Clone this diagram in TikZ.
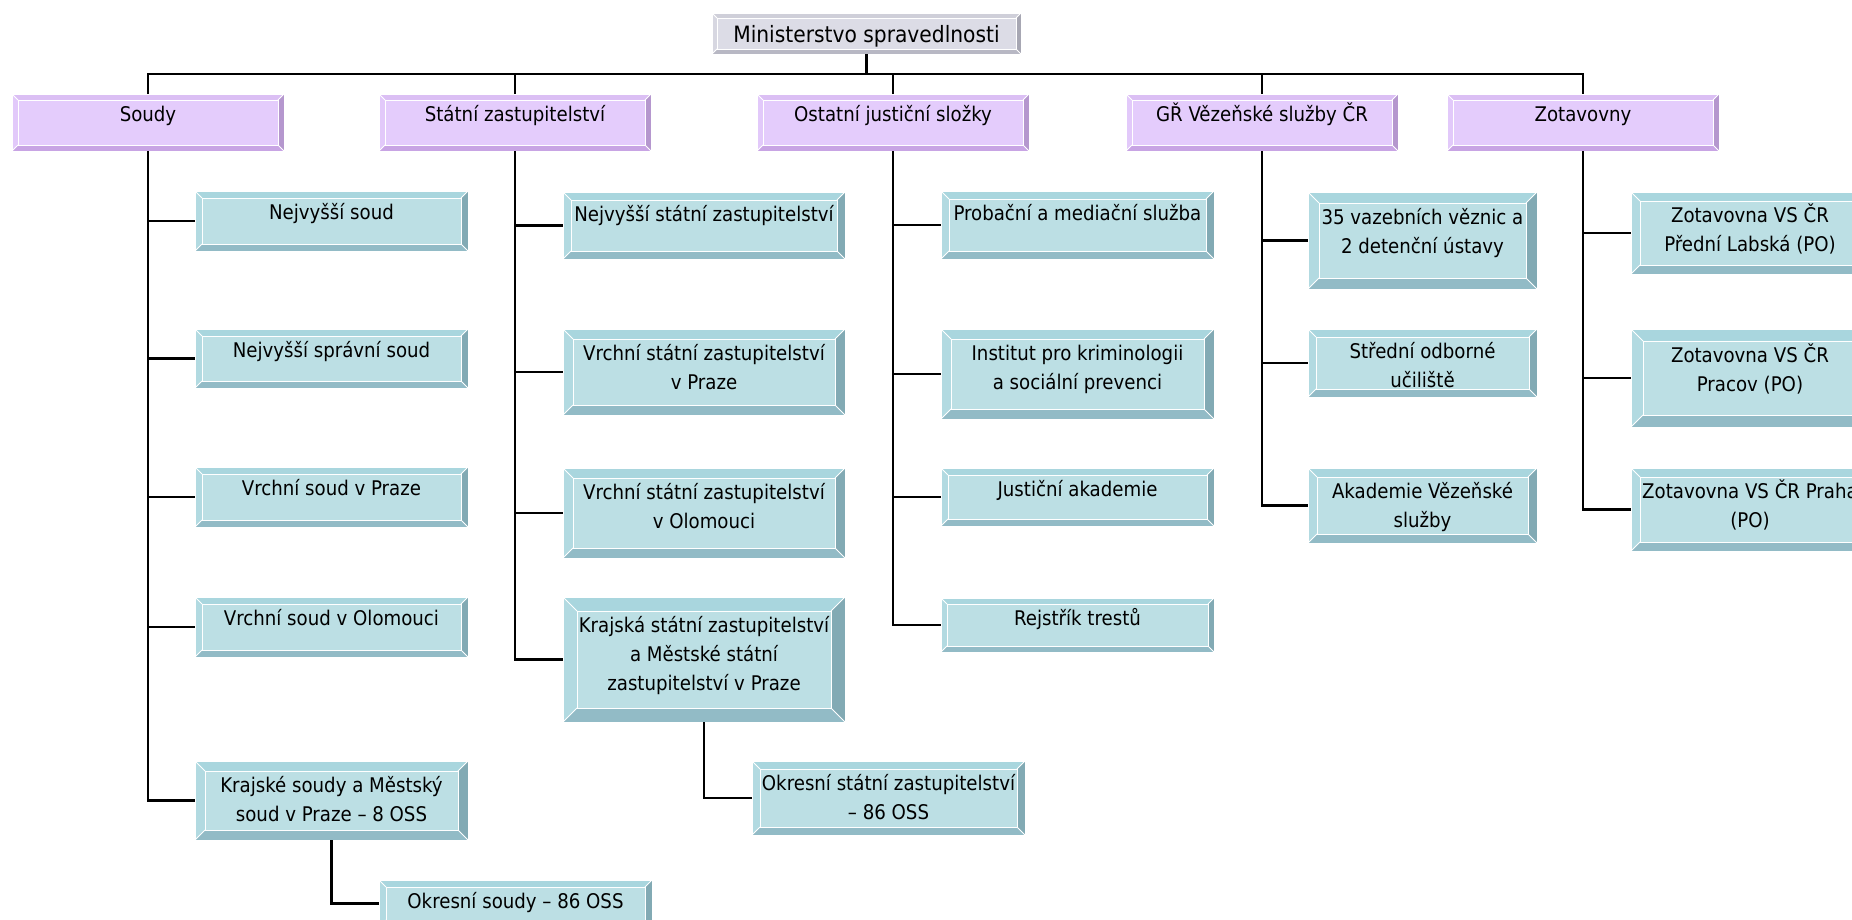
\documentclass[tikz,border=0pt]{standalone}
\usepackage{fontspec}
\IfFontExistsTF{DejaVu Sans Condensed}{\setmainfont{DejaVu Sans Condensed}}{\setmainfont{Liberation Sans}}
\usetikzlibrary{fit}
\definecolor{tF}{HTML}{BCDFE4}
\definecolor{tT}{HTML}{A9D6DE}
\definecolor{tL}{HTML}{B2DAE1}
\definecolor{tB}{HTML}{92BBC6}
\definecolor{tR}{HTML}{82AAB4}
\definecolor{pF}{HTML}{E4CCFC}
\definecolor{pT}{HTML}{DBBFF4}
\definecolor{pL}{HTML}{E2C9FA}
\definecolor{pB}{HTML}{C8A4E4}
\definecolor{pR}{HTML}{B597CE}
\definecolor{gF}{HTML}{DCDCE6}
\definecolor{gT}{HTML}{CFCFD9}
\definecolor{gL}{HTML}{D7D7E1}
\definecolor{gB}{HTML}{B8B8C4}
\definecolor{gR}{HTML}{A7A7B3}
\tikzset{
  boxtext/.style={inner sep=0pt, outer sep=0pt, align=center, text=black,
    font=\fontsize{20.2pt}{29pt}\selectfont},
  bigtext/.style={font=\fontsize{22.5pt}{30pt}\selectfont},
  conn/.style={draw=black, line width=2.2pt},
  rim/.style={draw=white, line width=1pt},
}
% #1 name, #2 x1, #3 y1, #4 x2, #5 y2, #6 bevel, #7 palette, #8 text style, #9 text
\newcommand\bbox[9]{%
  \node[fit={(#2,#3) (#4,#5)}, inner sep=0pt, outer sep=0pt] (#1) {};
  \coordinate (#1-a) at ([xshift=#6pt,yshift=-#6pt]#1.north west);
  \coordinate (#1-b) at ([xshift=-#6pt,yshift=-#6pt]#1.north east);
  \coordinate (#1-c) at ([xshift=-#6pt,yshift=#6pt]#1.south east);
  \coordinate (#1-d) at ([xshift=#6pt,yshift=#6pt]#1.south west);
  \fill[#7T] (#1.north west) -- (#1.north east) -- (#1-b) -- (#1-a) -- cycle;
  \fill[#7L] (#1.north west) -- (#1-a) -- (#1-d) -- (#1.south west) -- cycle;
  \fill[#7R] (#1.north east) -- (#1.south east) -- (#1-c) -- (#1-b) -- cycle;
  \fill[#7B] (#1.south west) -- (#1-d) -- (#1-c) -- (#1.south east) -- cycle;
  \fill[#7F] (#1-a) rectangle (#1-c);
  \draw[rim] (#1.north west) rectangle (#1.south east);
  \draw[rim] (#1-a) rectangle (#1-c);
  \draw[rim, line width=0.8pt] (#1.north west) -- (#1-a) (#1.north east) -- (#1-b)
     (#1.south east) -- (#1-c) (#1.south west) -- (#1-d);
  \node[boxtext, #8, anchor=north] (#1-t) at ({(#2+#4)/2},{#3+#6+1.5}) {\rule{0pt}{1em}#9};
}
\begin{document}
\begin{tikzpicture}[x=1pt, y=-1pt]
\clip[use as bounding box] (0,0) rectangle (1852,919);
\fill[white] (0,0) rectangle (1852,919);

% top
\bbox{min}{712}{13}{1021}{54}{5}{g}{bigtext}{Ministerstvo spravedlnosti}
\coordinate (bus) at (866.5,74);

% level 1
\bbox{soudy}{12}{94}{284}{151}{6}{p}{}{Soudy}
\bbox{sz}{379}{94}{651}{151}{6}{p}{}{Státní zastupitelství}
\bbox{ojs}{757}{94}{1029}{151}{6}{p}{}{Ostatní justiční složky}
\bbox{gr}{1126}{94}{1398}{151}{6}{p}{}{GŘ Vězeňské služby ČR}
\bbox{zot}{1447}{94}{1719}{151}{6}{p}{}{Zotavovny}

% Soudy column
\bbox{ns}{195}{191}{468}{251}{7}{t}{}{Nejvyšší soud}
\bbox{nss}{195}{329}{468}{388}{7}{t}{}{Nejvyšší správní soud}
\bbox{vsp}{195}{467}{468}{527}{7}{t}{}{Vrchní soud v Praze}
\bbox{vso}{195}{597}{468}{657}{7}{t}{}{Vrchní soud v Olomouci}
\bbox{ks}{195}{761}{468}{840}{10}{t}{}{Krajské soudy a Městský\\soud v Praze – 8 OSS}
\bbox{os}{379}{880}{652}{927}{7}{t}{}{Okresní soudy – 86 OSS}

% Statni zastupitelstvi column
\bbox{nsz}{563}{192}{845}{259}{8}{t}{}{Nejvyšší státní zastupitelství}
\bbox{vszp}{563}{329}{845}{415}{10}{t}{}{Vrchní státní zastupitelství\\v Praze}
\bbox{vszo}{563}{468}{845}{558}{10}{t}{}{Vrchní státní zastupitelství\\v Olomouci}
\bbox{ksz}{563}{597}{845}{722}{14}{t}{}{Krajská státní zastupitelství\\a Městské státní\\zastupitelství v Praze}
\bbox{osz}{752}{761}{1025}{835}{8}{t}{}{Okresní státní zastupitelství\\– 86 OSS}

% Ostatni column
\bbox{pms}{941}{191}{1214}{259}{8}{t}{}{Probační a mediační služba}
\bbox{ikp}{941}{329}{1214}{419}{10}{t}{}{Institut pro kriminologii\\a sociální prevenci}
\bbox{ja}{941}{468}{1214}{526}{7}{t}{}{Justiční akademie}
\bbox{rt}{941}{598}{1214}{652}{6}{t}{}{Rejstřík trestů}

% GR column
\bbox{vv}{1308}{192}{1537}{289}{11}{t}{}{35 vazebních věznic a\\2 detenční ústavy}
\bbox{sou}{1308}{329}{1537}{397}{8}{t}{}{Střední odborné\\učiliště}
\bbox{avs}{1308}{468}{1537}{543}{9}{t}{}{Akademie Vězeňské\\služby}

% Zotavovny column
\bbox{z1}{1631}{192}{1869}{274}{9}{t}{}{Zotavovna VS ČR\\Přední Labská (PO)}
\bbox{z2}{1631}{329}{1869}{427}{12}{t}{}{Zotavovna VS ČR\\Pracov (PO)}
\bbox{z3}{1631}{468}{1869}{551}{9}{t}{}{Zotavovna VS ČR Praha\\(PO)}

% connectors: top bus
\draw[conn] (min.south) -- (bus);
\draw[conn] (soudy.north) |- (zot.north |- bus) -- (zot.north);
\draw[conn] (sz.north) -- (sz.north |- bus);
\draw[conn] (ojs.north) -- (ojs.north |- bus);
\draw[conn] (gr.north) -- (gr.north |- bus);

% Soudy trunk
\draw[conn] (soudy.south) |- (ks.west);
\draw[conn] (soudy.south |- ns.west) -- (ns.west);
\draw[conn] (soudy.south |- nss.west) -- (nss.west);
\draw[conn] (soudy.south |- vsp.west) -- (vsp.west);
\draw[conn] (soudy.south |- vso.west) -- (vso.west);
\draw[conn] (ks.south) |- (os.west);

% Statni trunk
\draw[conn] (sz.south) |- (ksz.west);
\draw[conn] (sz.south |- nsz.west) -- (nsz.west);
\draw[conn] (sz.south |- vszp.west) -- (vszp.west);
\draw[conn] (sz.south |- vszo.west) -- (vszo.west);
\draw[conn] (ksz.south) |- (osz.west);

% Ostatni trunk
\draw[conn] (ojs.south) |- (rt.west);
\draw[conn] (ojs.south |- pms.west) -- (pms.west);
\draw[conn] (ojs.south |- ikp.west) -- (ikp.west);
\draw[conn] (ojs.south |- ja.west) -- (ja.west);

% GR trunk
\draw[conn] (gr.south) |- (avs.west);
\draw[conn] (gr.south |- vv.west) -- (vv.west);
\draw[conn] (gr.south |- sou.west) -- (sou.west);

% Zotavovny trunk
\draw[conn] (zot.south) |- (z3.west);
\draw[conn] (zot.south |- z1.west) -- (z1.west);
\draw[conn] (zot.south |- z2.west) -- (z2.west);
\end{tikzpicture}
\end{document}
